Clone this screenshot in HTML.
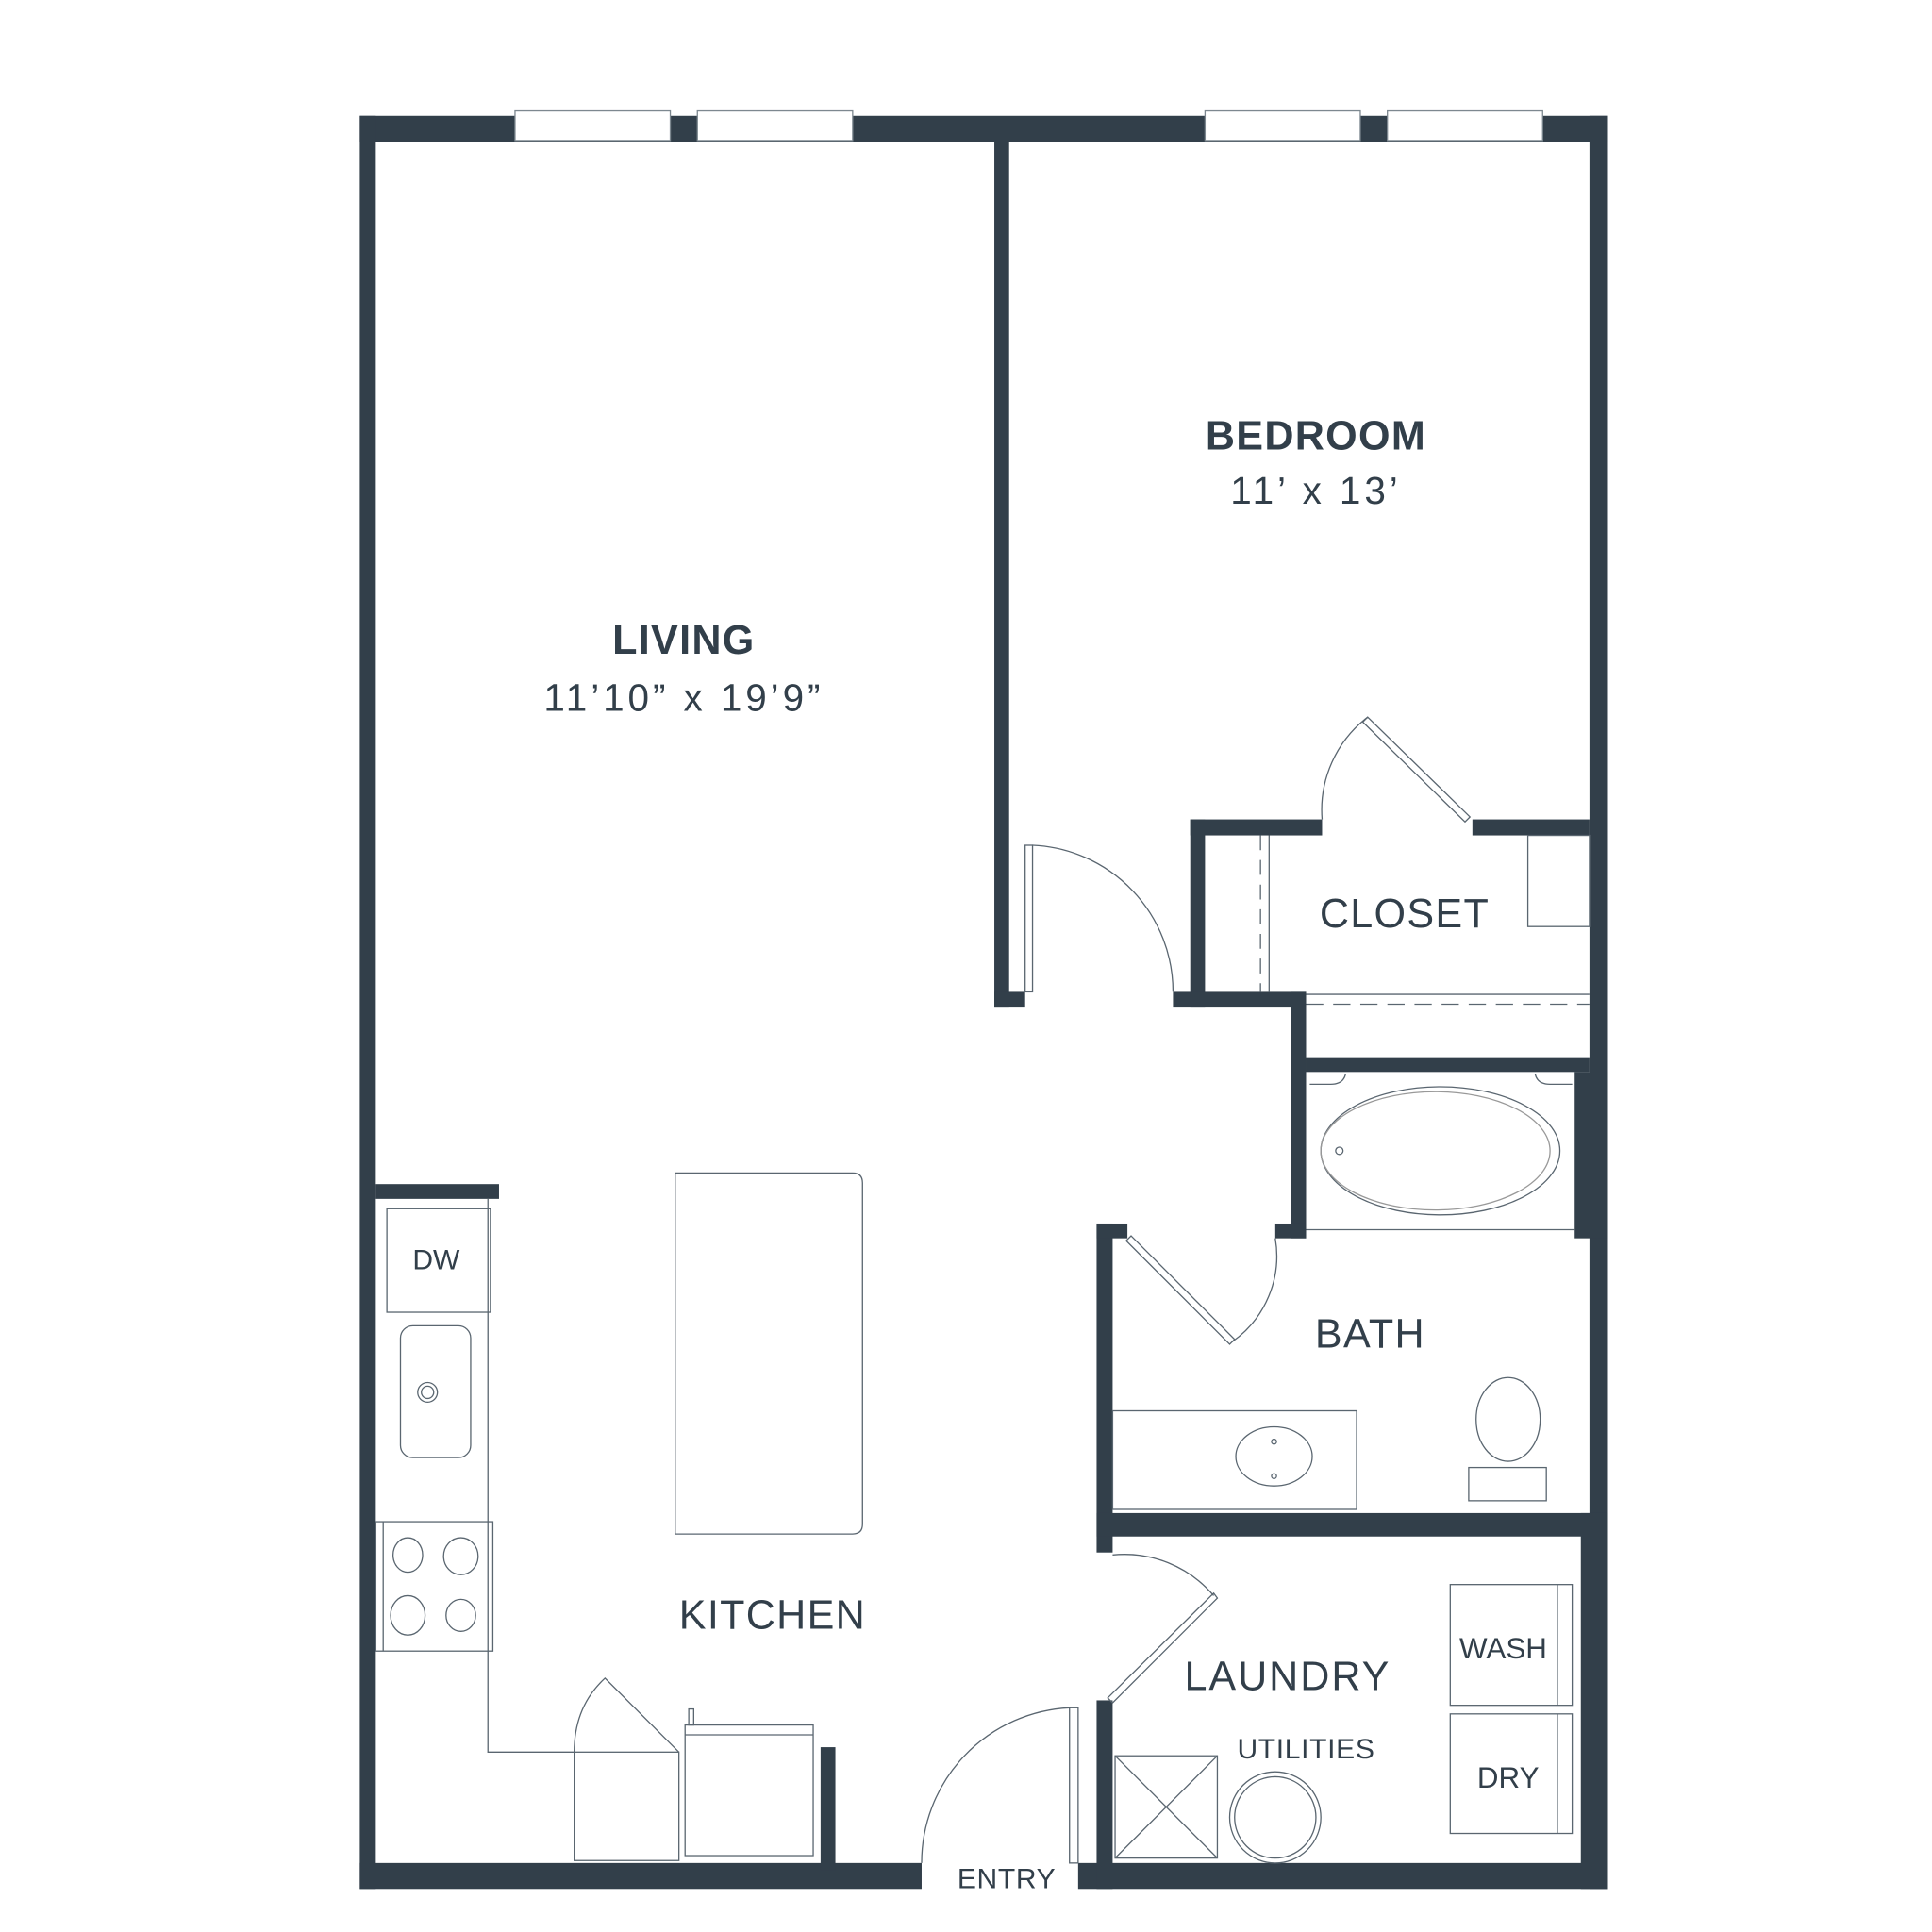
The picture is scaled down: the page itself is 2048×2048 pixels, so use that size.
<!DOCTYPE html>
<html><head><meta charset="utf-8"><style>
html,body{margin:0;padding:0;background:#fff;}
svg{display:block;}
text{font-family:"Liberation Sans","DejaVu Sans",sans-serif;fill:#323f4a;text-anchor:middle;dominant-baseline:central;}
</style></head><body>
<svg width="2048" height="2048" viewBox="0 0 1568 1568" xmlns="http://www.w3.org/2000/svg">
<rect width="1568" height="1568" fill="#fff"/>
<g fill="#323f4a">
<rect x="292" y="94" width="1013" height="21"/>
<rect x="292" y="94" width="13" height="1439"/>
<rect x="1290" y="94" width="15" height="1439"/>
<rect x="292" y="1512" width="456" height="21"/>
<rect x="875" y="1512" width="430" height="21"/>
<rect x="807" y="115" width="12" height="702"/>
<rect x="807" y="805" width="25" height="12"/>
<rect x="966" y="665" width="107" height="13"/>
<rect x="1195" y="665" width="95" height="13"/>
<rect x="966" y="665" width="12" height="152"/>
<rect x="952" y="805" width="108" height="12"/>
<rect x="1048" y="805" width="12" height="200"/>
<rect x="1035" y="993" width="25" height="12"/>
<rect x="1060" y="858" width="230" height="12"/>
<rect x="1278" y="870" width="27" height="135"/>
<rect x="890" y="993" width="13" height="267"/>
<rect x="890" y="993" width="25" height="12"/>
<rect x="890" y="1228" width="415" height="19"/>
<rect x="1283" y="1228" width="22" height="305"/>
<rect x="890" y="1380" width="13" height="153"/>
<rect x="666" y="1418" width="12" height="100"/>
<rect x="305" y="961" width="100" height="12"/>
</g>
<g fill="#fff" stroke="#7d8890" stroke-width="1">
<rect x="418" y="90" width="126" height="24"/>
<rect x="566" y="90" width="126" height="24"/>
<rect x="978" y="90" width="126" height="24"/>
<rect x="1126" y="90" width="126" height="24"/>
</g>
<g fill="none" stroke="#5a6670" stroke-width="1">
<rect x="832" y="686" width="6" height="119"/>
<path d="M838 686 A119 119 0 0 1 952 805"/>
<path d="M1073 665 A95 95 0 0 1 1110 582"/>
<path d="M1110 582 L1193 663 L1189 667 L1106 586 Z"/>
<line x1="1023" y1="678" x2="1023" y2="805" stroke-dasharray="12 8"/>
<line x1="1030" y1="678" x2="1030" y2="805"/>
<rect x="1240" y="678" width="50" height="74"/>
<line x1="1060" y1="807" x2="1290" y2="807"/>
<line x1="1060" y1="815" x2="1290" y2="815" stroke-dasharray="14 8"/>
<line x1="1060" y1="998" x2="1278" y2="998"/>
<ellipse cx="1169" cy="934" rx="97" ry="52"/>
<ellipse cx="1165" cy="934" rx="93" ry="48" stroke="#999"/>
<circle cx="1087" cy="934" r="3"/>
<path d="M1063 880 L1080 880 Q1090 880 1092 872"/>
<path d="M1276 880 L1258 880 Q1248 880 1246 872"/>
<path d="M918 1003 L1002 1087 L998 1091 L914 1007 Z"/>
<path d="M1000 1089 A85 85 0 0 0 1035 1005"/>
<rect x="903" y="1145" width="198" height="80"/>
<ellipse cx="1034" cy="1182" rx="31" ry="24"/>
<circle cx="1034" cy="1170" r="2"/>
<circle cx="1034" cy="1198" r="2"/>
<ellipse cx="1224" cy="1152" rx="26" ry="34"/>
<rect x="1192" y="1191" width="63" height="27"/>
<path d="M903 1262 A95 95 0 0 1 985 1295"/>
<path d="M985 1293 L988 1297 L903 1382 L899 1378 Z"/>
<rect x="868" y="1386" width="7" height="126"/>
<path d="M868 1386 A126 126 0 0 0 748 1512"/>
<rect x="1177" y="1286" width="99" height="98"/>
<line x1="1264" y1="1286" x2="1264" y2="1384"/>
<rect x="1177" y="1391" width="99" height="97"/>
<line x1="1264" y1="1391" x2="1264" y2="1488"/>
<rect x="905" y="1425" width="83" height="83"/>
<line x1="905" y1="1425" x2="988" y2="1508"/>
<line x1="988" y1="1425" x2="905" y2="1508"/>
<circle cx="1035" cy="1475" r="37"/>
<circle cx="1035" cy="1475" r="33"/>
<path d="M396 973 L396 1422 L466 1422"/>
<rect x="314" y="981" width="84" height="84"/>
<rect x="325" y="1076" width="57" height="107" rx="10"/>
<circle cx="347" cy="1130" r="8"/>
<circle cx="347" cy="1130" r="5"/>
<rect x="305" y="1235" width="95" height="105"/>
<line x1="311" y1="1235" x2="311" y2="1340"/>
<ellipse cx="331" cy="1262" rx="12" ry="14"/>
<ellipse cx="374" cy="1263" rx="14" ry="15"/>
<ellipse cx="331" cy="1311" rx="14" ry="16"/>
<ellipse cx="374" cy="1311" rx="12" ry="13"/>
<rect x="466" y="1422" width="85" height="88"/>
<path d="M466 1422 Q466 1385 491 1362 L551 1422"/>
<rect x="556" y="1400" width="104" height="106"/>
<line x1="556" y1="1408" x2="660" y2="1408"/>
<rect x="559" y="1387" width="4" height="13"/>
<path d="M548 952 L692 952 Q700 952 700 960 L700 1237 Q700 1245 692 1245 L548 1245 Z"/>
</g>
<text x="1068" y="354" font-size="33" font-weight="bold" letter-spacing="1">BEDROOM</text>
<text x="1068" y="398" font-size="31" letter-spacing="3">11’ x 13’</text>
<text x="555" y="520" font-size="33" font-weight="bold" letter-spacing="1">LIVING</text>
<text x="555" y="566" font-size="31" letter-spacing="3">11’10” x 19’9”</text>
<text x="1140" y="742" font-size="33" letter-spacing="1">CLOSET</text>
<text x="1112" y="1083" font-size="33" letter-spacing="1">BATH</text>
<text x="627" y="1311" font-size="33" letter-spacing="1">KITCHEN</text>
<text x="1045" y="1361" font-size="33" letter-spacing="1.5">LAUNDRY</text>
<text x="1220" y="1338" font-size="24">WASH</text>
<text x="1224" y="1443" font-size="24">DRY</text>
<text x="1060" y="1420" font-size="23" letter-spacing="0.5">UTILITIES</text>
<text x="817" y="1525" font-size="23" letter-spacing="0.5">ENTRY</text>
<text x="354" y="1023" font-size="23">DW</text>
</svg>
</body></html>
